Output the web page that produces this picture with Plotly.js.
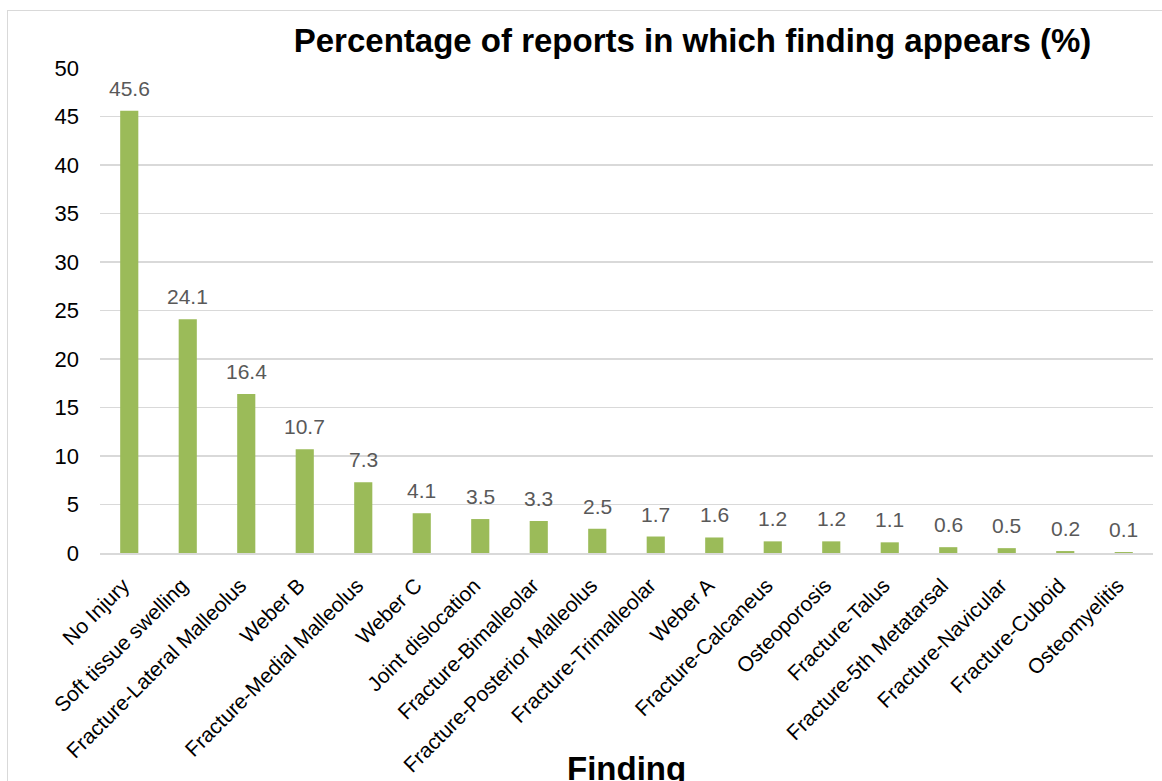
<!DOCTYPE html>
<html>
<head>
<meta charset="utf-8">
<script src="https://cdn.plot.ly/plotly-3.0.1.min.js"></script>
<style>
  html, body { margin: 0; padding: 0; background: #fff; overflow: hidden; }
  #wrap { position: relative; width: 1162px; height: 781px; }
  #frame { position: absolute; left: 7px; top: 10px; width: 1170px; height: 790px; border: 1px solid #d9d9d9; box-sizing: border-box; pointer-events: none; }
  #chart { position: absolute; left: 0; top: 0; width: 1162px; height: 781px; }
</style>
</head>
<body>
<div id="wrap">
  <div id="chart"></div>
  <div id="frame"></div>
</div>
<script>
const categories = [
  "No Injury", "Soft tissue swelling", "Fracture-Lateral Malleolus", "Weber B",
  "Fracture-Medial Malleolus", "Weber C", "Joint dislocation", "Fracture-Bimalleolar",
  "Fracture-Posterior Malleolus", "Fracture-Trimalleolar", "Weber A", "Fracture-Calcaneus",
  "Osteoporosis", "Fracture-Talus", "Fracture-5th Metatarsal", "Fracture-Navicular",
  "Fracture-Cuboid", "Osteomyelitis"
];
const percentages = [45.6, 24.1, 16.4, 10.7, 7.3, 4.1, 3.5, 3.3, 2.5, 1.7, 1.6, 1.2, 1.2, 1.1, 0.6, 0.5, 0.2, 0.1];
const yTicks = [0, 5, 10, 15, 20, 25, 30, 35, 40, 45, 50];

const FONT = 'Liberation Sans, Arial, sans-serif';

const trace = {
  type: 'bar',
  x: categories,
  y: percentages,
  marker: { color: '#9BBB59' },
  hoverinfo: 'x+y'
};

const valueLabels = categories.map((c, i) => ({
  x: c, y: percentages[i],
  xref: 'x', yref: 'y',
  text: percentages[i].toFixed(1),
  showarrow: false,
  xanchor: 'center', yanchor: 'bottom',
  yshift: 9,
  font: { family: FONT, size: 21, color: '#595959' }
}));

const layout = {
  width: 1162, height: 781,
  margin: { l: 100, r: 9, t: 68, b: 228 },
  paper_bgcolor: 'rgba(0,0,0,0)',
  plot_bgcolor: 'rgba(0,0,0,0)',
  font: { family: FONT, color: '#000' },
  bargap: 0.69,
  showlegend: false,
  title: {
    text: '<b>Percentage of reports in which finding appears (%)</b>',
    font: { family: FONT, size: 33, color: '#000' },
    x: 0.596, xanchor: 'center', xref: 'container',
    y: 0.948, yanchor: 'middle', yref: 'container'
  },
  xaxis: {
    type: 'category',
    tickangle: -45,
    tickfont: { family: FONT, size: 21, color: '#000' },
    ticklabelstandoff: 10,
    ticklabelshift: -6,
    showline: true, linecolor: '#d9d9d9', linewidth: 2,
    ticks: '', showgrid: false,
    automargin: false
  },
  yaxis: {
    range: [0, 50],
    tickvals: yTicks,
    ticktext: yTicks.map(String),
    tickfont: { family: FONT, size: 22, color: '#000' },
    ticklabelstandoff: 20,
    showgrid: true, gridcolor: '#d9d9d9', gridwidth: 1.5,
    zeroline: false, showline: false,
    ticks: '', ticklen: 0,
    automargin: false
  },
  annotations: valueLabels.concat([{
    text: '<b>Finding</b>',
    xref: 'paper', yref: 'paper',
    x: 0.5, y: -0.445, xanchor: 'center', yanchor: 'middle',
    showarrow: false,
    font: { family: FONT, size: 33, color: '#000' }
  }])
};

Plotly.newPlot('chart', [trace], layout, { displayModeBar: false, staticPlot: true });
</script>
</body>
</html>
